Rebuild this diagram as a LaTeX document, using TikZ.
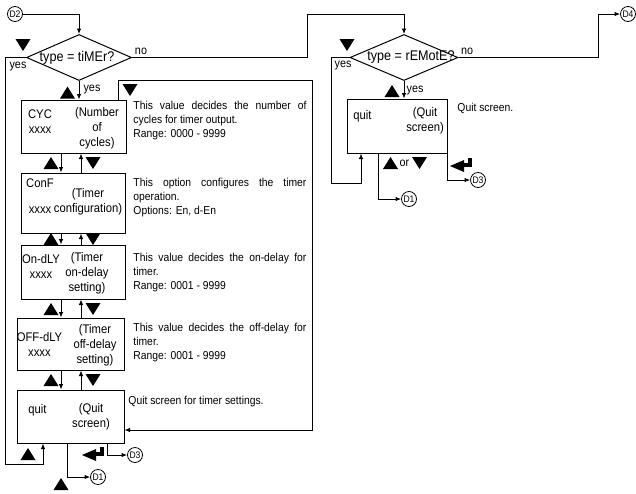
\documentclass[tikz,border=0pt]{standalone}
\usepackage{fontspec}
\setmainfont{Liberation Sans}[FakeStretch=0.9]
\usetikzlibrary{shapes.geometric,arrows.meta}

\tikzset{
  box/.style={draw, line width=1pt, inner sep=0pt},
  decision/.style={diamond, draw, line width=1pt, inner sep=0pt,
    minimum width=105pt, minimum height=46pt, font=\fontsize{14}{16}\selectfont},
  conn/.style={circle, draw, line width=0.8pt, inner sep=0pt, minimum size=15pt,
    font=\fontsize{9.5}{10}\selectfont},
  keytext/.style={inner sep=0pt, align=center, font=\fontsize{12.5}{15}\selectfont},
  note/.style={anchor=north west, inner sep=0pt, text width=173pt, align=justify,
    font={\fontsize{11.5}{13.8}\selectfont\hyphenpenalty=10000 \tolerance=9999 }},
  tag/.style={inner sep=0pt, font=\fontsize{12}{14}\selectfont},
  keyup/.pic={\fill (-7.5,6) -- (7.5,6) -- (0,-6) -- cycle;},
  keydown/.pic={\fill (-7.5,-6) -- (7.5,-6) -- (0,6) -- cycle;},
  enterkey/.pic={\fill (0,0) -- (14,-6) -- (14,6) -- cycle;
                 \fill (13,-3) rectangle (22,1);
                 \fill (18,-8) rectangle (22,1);}
}

\begin{document}
\begin{tikzpicture}[x=1pt, y=-1pt, line width=0.9pt, >={Latex[length=5.5pt,width=4.5pt]}]
            \useasboundingbox (0,0) rectangle (636,493);

            % off-page connectors
            \node[conn] (D2) at (15,14) {D2};
            \node[conn] (D4) at (628,14) {D4};
            \node[conn] (D1a) at (98,477) {D1};
            \node[conn] (D3a) at (135,455) {D3};
            \node[conn] (D1b) at (409,199) {D1};
            \node[conn] (D3b) at (478,180) {D3};

            % decisions
            \node[decision] (IsTimer) at (79,57.5) {\makebox[0pt]{\hspace*{-4pt}type = tiMEr?}};
            \node[decision, minimum width=108pt] (IsRemote) at (404,57.5) {\makebox[0pt]{\hspace*{14pt}type = rEMotE?}};

            % timer screens
            \node[box, minimum width=105pt, minimum height=53pt] (CYC) at (73.5,126.5) {};
            \node[box, minimum width=104pt, minimum height=60pt] (ConF) at (73,203) {};
            \node[box, minimum width=104pt, minimum height=54pt] (OnDly) at (73,272) {};
            \node[box, minimum width=107pt, minimum height=52pt] (OffDly) at (70.5,344) {};
            \node[box, minimum width=107pt, minimum height=53pt] (Quit) at (70.5,416.5) {};
            \node[box, minimum width=100pt, minimum height=54pt] (QuitR) at (397,126) {};

            \node[keytext] (CYCname) at (40,122) {CYC\\xxxx};
            \node[keytext] (CYCinfo) at (97,128) {(Number\\of\\cycles)};
            \node[keytext] (ConFname) at (40,196) {ConF\\[11pt]xxxx};
            \node[keytext] (ConFinfo) at (88,202) {(Timer\\configuration)};
            \node[keytext] (OnDlyName) at (41,266) {On-dLY\\xxxx};
            \node[keytext] (OnDlyInfo) at (87,273.5) {(Timer\\on-delay\\setting)};
            \node[keytext] (OffDlyName) at (39.5,344) {OFF-dLY\\xxxx};
            \node[keytext] (OffDlyInfo) at (95,345.5) {(Timer\\off-delay\\setting)};
            \node[keytext] (QuitName) at (37.5,410) {quit};
            \node[keytext] (QuitInfo) at (91,417) {(Quit\\screen)};
            \node[keytext] (QuitRName) at (362.5,116.5) {quit};
            \node[keytext] (QuitRInfo) at (425,121) {(Quit\\screen)};

            % descriptions
            \node[note] (CYCnote) at (133,101) {This value decides the number of cycles for timer output.\\Range: 0000 - 9999};
            \node[note] (ConFnote) at (133,178) {This option configures the timer operation.\\Options: En, d-En};
            \node[note] (OnDlyNote) at (133,253) {This value decides the on-delay for timer.\\Range: 0001 - 9999};
            \node[note] (OffDlyNote) at (133,323) {This value decides the off-delay for timer.\\Range: 0001 - 9999};
            \node[note] (QuitNote) at (128,396) {Quit screen for timer settings.};
            \node[note] (QuitRNote) at (457,103) {Quit screen.};

            % branch labels
            \node[tag] (noTimer) at (141,51) {no};
            \node[tag] (yesTimerL) at (18,67) {yes};
            \node[tag] (yesTimer) at (92,90) {yes};
            \node[tag] (noRemote) at (467,51) {no};
            \node[tag] (yesRemoteL) at (343,66) {yes};
            \node[tag] (yesRemote) at (415,91) {yes};
            \node[tag] (orKeys) at (404.5,163) {or};

            % turning points
            \coordinate (noTurn) at (307,14);
            \coordinate (noEnd) at (598,14);
            \coordinate (yesTurn) at (5,464);
            \coordinate (yesIn) at (43,0);
            \coordinate (dn) at (61,0);
            \coordinate (up) at (81,0);
            \coordinate (backL) at (118,80);
            \coordinate (backR) at (312,80);
            \coordinate (backIn) at (312,430);
            \coordinate (toD1) at (67,0);
            \coordinate (toD3) at (107,0);
            \coordinate (ryesTurn) at (331,183);
            \coordinate (ryesIn) at (361,0);
            \coordinate (rtoD1) at (378,0);

            \draw[->] (D2) -| (IsTimer.north);
            \draw[->] (IsTimer.east) -| (noTurn) -| (IsRemote.north);
            \draw[->] (IsRemote.east) -| (noEnd) -- (D4);
            \draw[->] (IsTimer.west) -| (yesTurn) -| (Quit.south -| yesIn);
            \draw[->] (IsTimer.south) -- (CYC.north -| IsTimer.south);

            \draw[->] (CYC.south -| dn) -- (ConF.north -| dn);
            \draw[->] (ConF.north -| up) -- (CYC.south -| up);
            \draw[->] (ConF.south -| dn) -- (OnDly.north -| dn);
            \draw[->] (OnDly.north -| up) -- (ConF.south -| up);
            \draw[->] (OnDly.south -| dn) -- (OffDly.north -| dn);
            \draw[->] (OffDly.north -| up) -- (OnDly.south -| up);
            \draw[->] (OffDly.south -| dn) -- (Quit.north -| dn);
            \draw[->] (Quit.north -| up) -- (OffDly.south -| up);

            \draw[->] (CYC.north -| backL) -- (backL) -- (backR) -- (backIn) -- (backIn -| Quit.east);
            \draw[->] (Quit.south -| toD1) |- (D1a);
            \draw[->] (Quit.south -| toD3) |- (D3a);

            \draw[->] (IsRemote.south) -- (QuitR.north -| IsRemote.south);
            \draw[->] (IsRemote.west) -| (ryesTurn) -| (QuitR.south -| ryesIn);
            \draw[->] (QuitR.south -| rtoD1) |- (D1b);
            \draw[->] (QuitR.south east) |- (D3b);

            % keys
            \pic at (23,45) {keydown};
            \pic at (347,45) {keydown};
            \pic at (130,90) {keydown};
            \pic at (67.5,92.5) {keyup};
            \pic at (392,91) {keyup};
            \pic at (51,163) {keyup};
            \pic at (93,163) {keydown};
            \pic at (51,239) {keyup};
            \pic at (93,239) {keydown};
            \pic at (51,309) {keyup};
            \pic at (93,309) {keydown};
            \pic at (51,380) {keyup};
            \pic at (93,380) {keydown};
            \pic at (28,454) {keyup};
            \pic at (61,484) {keyup};
            \pic at (390.5,163) {keyup};
            \pic at (419.5,163) {keydown};
            \pic at (82,455) {enterkey};
            \pic at (450,166) {enterkey};
        \end{tikzpicture}
\end{document}
